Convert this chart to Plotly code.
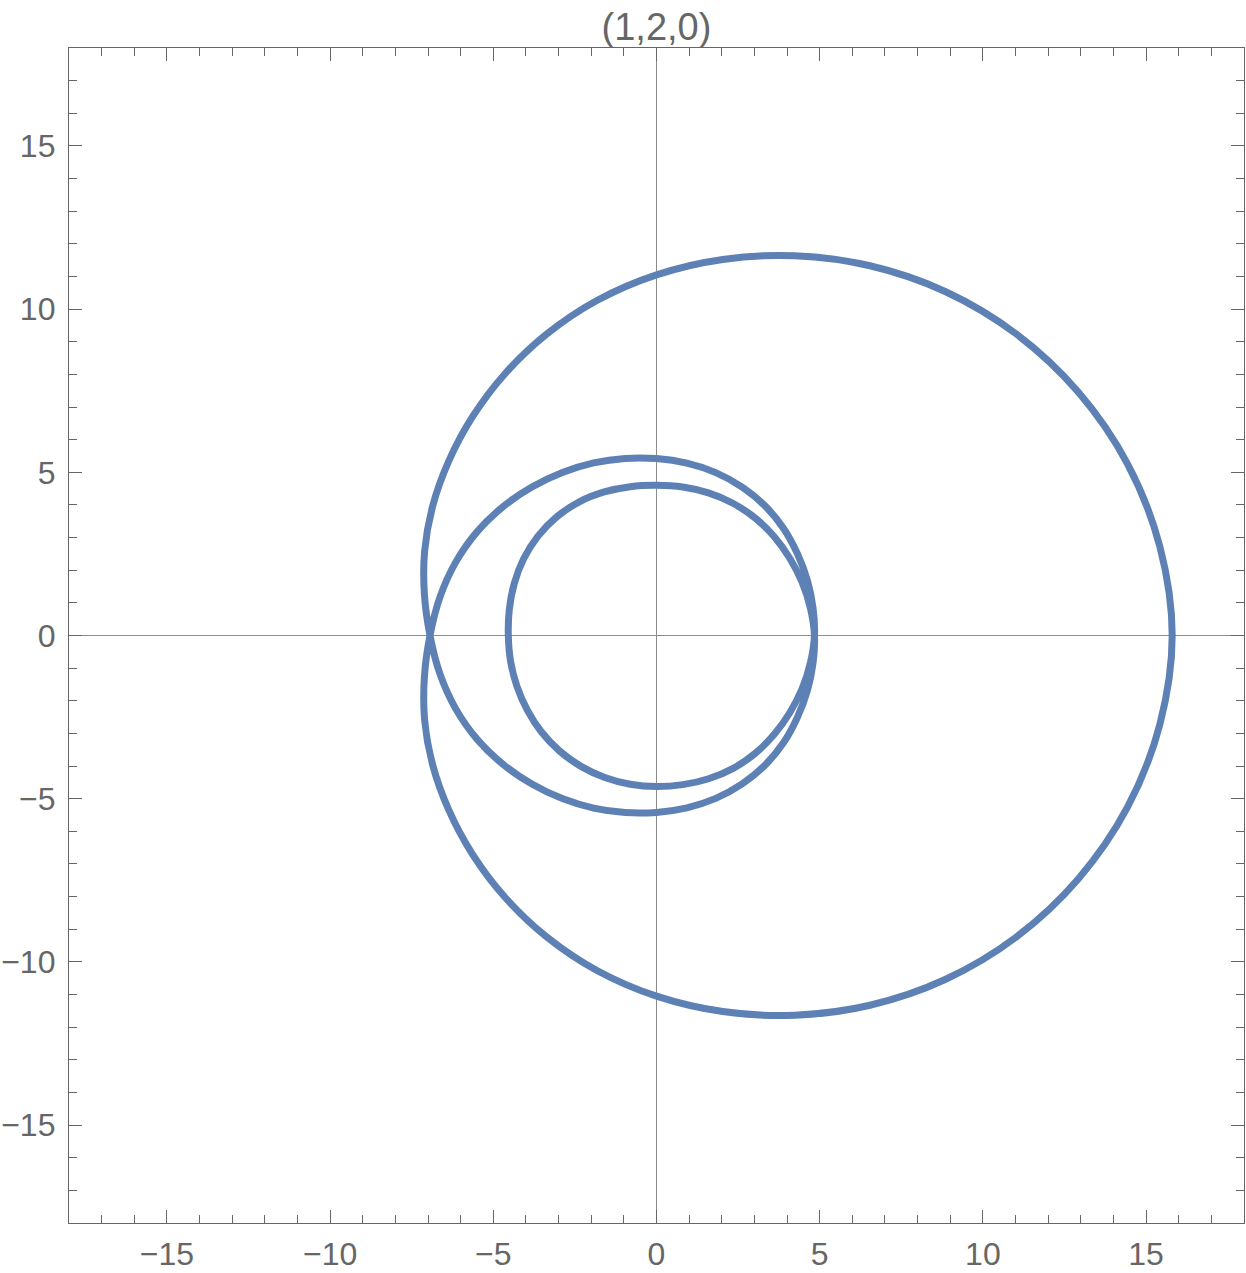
import numpy as np
import plotly.graph_objects as go

# curve in polar form: radius at every 10 degrees,
# six half-loops traced in order as one closed path
angle_up = [0, 10, 20, 30, 40, 50, 60, 70, 80, 90, 100, 110, 120, 130, 140, 150, 160, 170, 180]
angle_low = [180, 190, 200, 210, 220, 230, 240, 250, 260, 270, 280, 290, 300, 310, 320, 330, 340, 350, 360]

# big loop, upper half
r_big_up = [15.80, 15.66, 15.36, 14.92, 14.38, 13.76, 13.08, 12.38, 11.70, 11.05,
            10.43, 9.83, 9.27, 8.76, 8.31, 7.92, 7.56, 7.22, 6.94]
# middle loop, lower half
r_mid_low = [6.94, 6.74, 6.55, 6.35, 6.14, 5.94, 5.77, 5.63, 5.51, 5.42,
             5.36, 5.31, 5.25, 5.18, 5.09, 4.99, 4.92, 4.87, 4.84]
# inner loop, upper half
r_in_up = [4.84, 4.79, 4.75, 4.72, 4.71, 4.70, 4.68, 4.65, 4.62, 4.60,
           4.63, 4.68, 4.73, 4.75, 4.74, 4.70, 4.64, 4.58, 4.54]
# inner loop, lower half
r_in_low = [4.54, 4.54, 4.55, 4.57, 4.60, 4.62, 4.63, 4.63, 4.63, 4.63,
            4.64, 4.67, 4.70, 4.71, 4.71, 4.72, 4.75, 4.79, 4.84]
# middle loop, upper half
r_mid_up = [4.84, 4.87, 4.92, 4.99, 5.09, 5.18, 5.25, 5.31, 5.36, 5.42,
            5.51, 5.63, 5.77, 5.94, 6.14, 6.35, 6.55, 6.74, 6.94]
# big loop, lower half
r_big_low = [6.94, 7.22, 7.56, 7.92, 8.31, 8.76, 9.27, 9.83, 10.43, 11.05,
             11.70, 12.38, 13.08, 13.76, 14.38, 14.92, 15.36, 15.66, 15.80]

tick_vals = [-15, -10, -5, 0, 5, 10, 15]
tick_text = ["\u221215", "\u221210", "\u22125", "0", "5", "10", "15"]
title = "(1,2,0)"

LINE = "#5E81B5"
GRAY = "#666666"
FONT = "Liberation Sans, Arial, sans-serif"


def join_arcs(arcs):
    xs, ys = [], []
    for i, (ang, rad) in enumerate(arcs):
        start = 0 if i == 0 else 1  # shared endpoint with previous arc
        t = np.radians(ang[start:])
        r = np.array(rad[start:])
        xs += list(r * np.cos(t))
        ys += list(r * np.sin(t))
    return xs, ys


x, y = join_arcs([
    (angle_up, r_big_up),
    (angle_low, r_mid_low),
    (angle_up, r_in_up),
    (angle_low, r_in_low),
    (angle_up, r_mid_up),
    (angle_low, r_big_low),
])

fig = go.Figure()
fig.add_trace(go.Scatter(
    x=x, y=y, mode="lines",
    line=dict(color=LINE, width=7, shape="spline", smoothing=1.0),
    hoverinfo="skip", showlegend=False,
))

axis = dict(
    range=[-18, 18],
    tickvals=tick_vals,
    ticktext=tick_text,
    ticks="inside",
    ticklen=13,
    tickwidth=1.3,
    tickcolor=GRAY,
    showline=True,
    linecolor=GRAY,
    linewidth=1.3,
    mirror="ticks",
    showgrid=False,
    zeroline=True,
    zerolinecolor="#8c8c8c",
    zerolinewidth=1,
    tickfont=dict(family=FONT, size=32, color=GRAY),
    minor=dict(dtick=1, tick0=0, ticks="inside", ticklen=8,
               tickwidth=1.3, tickcolor=GRAY, showgrid=False),
    automargin=False,
    fixedrange=True,
)

fig.update_xaxes(**axis, ticklabelstandoff=2)
fig.update_yaxes(**axis, ticklabelstandoff=6)

fig.update_layout(
    width=1246,
    height=1273,
    autosize=False,
    margin=dict(l=69, r=2, t=48, b=50, pad=0),
    paper_bgcolor="white",
    plot_bgcolor="white",
    showlegend=False,
    title=dict(
        text=title,
        x=0.5, xref="paper", xanchor="center",
        y=1 - 27 / 1273, yref="container", yanchor="middle",
        font=dict(family=FONT, size=38, color=GRAY),
    ),
)

# drop the default page margin so the figure sits at the window's corner
fig.write_html(
    "out.html",
    config={"displayModeBar": False},
    post_script="document.body.style.margin='0';document.body.style.overflow='hidden';",
)
